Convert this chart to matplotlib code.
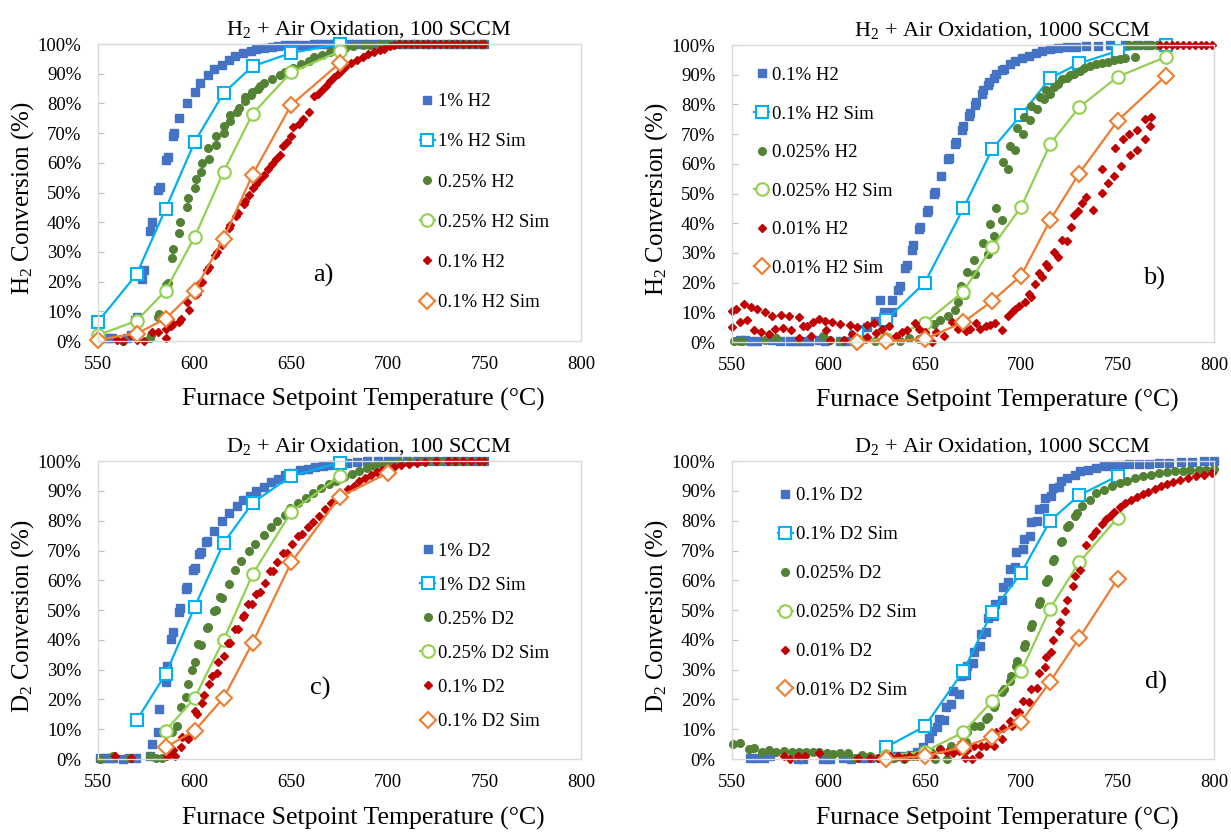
import numpy as np
import matplotlib.pyplot as plt

plt.rcParams['font.family'] = ['Liberation Serif', 'DejaVu Serif']
plt.rcParams['mathtext.fontset'] = 'custom'
plt.rcParams['mathtext.rm'] = 'Liberation Serif'
plt.rcParams['mathtext.it'] = 'Liberation Serif:italic'

# ---- panel a: H2 + air, 100 SCCM  (T degC, conversion %)
a_1_exp = [(552, 1), (555, 1), (557, 1), (565, 1), (567, 2), (569, 7), (570, 8), (573, 21), (574, 24),
           (577, 37), (578, 40), (581, 51), (582, 52), (585, 61), (586, 62), (589, 69), (589.5, 70),
           (592, 75), (596, 80), (600, 84), (603, 87), (607, 89.5), (610, 91.7), (614, 93), (618, 94.5),
           (621, 96), (625, 97), (629, 97.8), (632, 98.4), (636, 98.8), (640, 99.1), (643, 99.3),
           (647, 99.5), (651, 99.6), (654, 99.7), (658, 99.8), (662, 99.9), (665, 99.9), (669, 100),
           (672, 100), (676, 100), (680, 100), (683, 100), (687, 100), (690, 100), (694, 100), (697, 100),
           (701, 100), (705, 100), (708, 100), (712, 100), (715, 100), (719, 100), (722, 100), (726, 100),
           (730, 100), (733, 100), (737, 100), (740, 100), (744, 100), (748, 100), (750, 100)]
a_1_sim = [(550, 6.5), (570, 22.5), (585, 44.5), (600, 67), (615, 83.5), (630, 92.5), (650, 97), (675, 100)]
a_025_exp = [(563, 0), (577, 1), (577.5, 2), (581, 8), (581.5, 9), (585, 19), (586, 19.5), (588.5, 28),
             (589, 31), (592, 36.5), (592.5, 40), (596, 45), (596.5, 48), (600, 51.5), (600.5, 54.5),
             (603.5, 57), (604, 60), (607.5, 61.3), (607, 65), (611, 66), (611, 69), (615, 70), (615, 72.5),
             (618.5, 74), (618.5, 76), (622, 77), (623, 78.5), (626, 80.7), (626, 82), (629, 83), (629.5, 84),
             (633, 85), (634, 86), (636, 87), (640, 88.3), (644, 89.5), (647, 90.6), (651, 92), (655, 93.4),
             (659, 94.4), (662, 95.6), (666, 96.4), (670, 97.3), (674, 98), (678, 98.7), (682, 99.2),
             (687, 99.6), (691, 99.8), (696, 100), (700, 100), (704, 100), (708, 100), (712, 100), (716, 100),
             (720, 100), (724, 100), (728, 100), (732, 100), (736, 100), (740, 100), (744, 100), (748, 100),
             (750, 100)]
a_025_sim = [(550, 2), (570, 6.8), (585, 17), (600, 35), (615, 57), (630, 76.5), (650, 90.5), (675, 97.5)]
a_01_exp = [(560, 0.5), (563, 0), (567, 2), (570, 0.5), (574, 0), (578, 3), (581, 3), (585, 4), (585, 1),
            (588, 5), (589, 5.6), (592, 6.4), (593, 7.3), (596, 13), (597, 10.4), (600, 15.4), (601, 16),
            (603, 19.6), (604, 20), (606.5, 24), (607.5, 25), (610.5, 29), (611.5, 30), (614, 32.5), (615, 35),
            (618, 38), (618.5, 39), (621.4, 42), (622.4, 43), (625.4, 46), (626, 47), (628.4, 49), (630, 51.6),
            (632, 53), (634, 54.6), (636, 56), (638, 58), (640, 59.6), (642, 61.3), (644, 62.8), (645.6, 65.6),
            (647.6, 67), (649.8, 69), (651, 72), (654, 73), (656, 74.6), (659, 77), (662, 82.4), (664, 83.3),
            (666, 84.6), (668, 86), (670, 87.4), (672, 89), (674, 90), (676, 91), (678, 92.3), (681, 93.6),
            (684, 94.7), (687, 95.6), (690, 96.6), (693, 97.2), (696, 98), (698, 98.4), (701, 99.2),
            (703, 99.6), (706, 100), (709, 100), (712, 100), (715, 100), (718, 100), (721, 100), (724, 100),
            (727, 100), (730, 100), (733, 100), (736, 100), (739, 100), (742, 100), (745, 100), (748, 100),
            (750, 100)]
a_01_sim = [(550, 0.5), (570, 2.5), (585, 7.5), (600, 17), (615, 34.5), (630, 56), (650, 79.5), (675, 93.5)]

# ---- panel b: H2 + air, 1000 SCCM
b_01_exp = [(554, 0.8), (557, 0.6), (560, 0.3), (563, 0.2), (571, 0.6), (575, 0.5), (580, 0.3), (583, 0.3),
            (587, 0.2), (590, 0.3), (595, 0.6), (598, 0.5), (606, 0.3), (609, 0.5), (613, 2.5), (616, 4),
            (620, 5), (624, 7), (627, 14), (629, 10), (633, 10), (633, 14), (636, 17.6), (637, 19), (640, 25),
            (641, 26), (643.5, 31), (644, 32.6), (647, 38), (647.5, 38.8), (651, 43.8), (651.5, 44.5),
            (655, 50), (655.5, 50.6), (658.6, 56), (662, 61.5), (662.5, 62), (665.5, 66.6), (666, 67.4),
            (669.4, 71.3), (670, 72.7), (673, 76), (673.5, 77.2), (676, 79.8), (676.5, 80.9), (679.6, 83.4),
            (680, 84.8), (683, 86.5), (683.5, 87.6), (686, 89), (687, 90.2), (690, 91.6), (691, 92),
            (694, 93.5), (697, 94.6), (700.6, 95.5), (704, 96.3), (707.6, 97.2), (711, 98), (715, 98.5),
            (719, 98.9), (723.5, 99.2), (728.6, 99.4), (733.7, 99.7), (740, 99.8), (746, 99.9), (754, 100),
            (760, 100), (766, 100), (772, 100)]
b_01_sim = [(615, 3.5), (630, 7.5), (650, 20), (670, 45), (685, 65), (700, 76.5), (715, 88.8), (730, 93.8),
            (750, 98), (775, 100)]
b_0025_exp = [(551, 0.5), (554, 0.5), (555, 0.3), (567, 0.8), (573, 1.5), (585, 0.8), (597, 2), (601, 0.8),
              (606, 0.5), (615, 1.1), (619, 1.1), (624, 0.3), (632, 0.5), (637, 0.3), (642, 1.5), (647, 1.1),
              (650, 2.8), (655, 6.2), (658, 7.3), (662, 8.7), (665.9, 10.7), (667, 13.5), (668.8, 18.8),
              (671, 15.7), (672, 23.6), (675.5, 27.5), (676, 22.8), (680, 33.4), (682.7, 29.8), (683.7, 39.9),
              (686, 35.7), (686.7, 45), (690, 41), (690.8, 60.7), (693, 58.4), (694, 66), (697, 64.6),
              (698, 72), (701, 70), (701.6, 75.8), (704.5, 74.7), (705, 79.4), (708, 78.3), (709.6, 82.6),
              (711.8, 81.7), (713, 84.8), (715, 83.6), (717, 85.7), (719, 86.9), (721, 88.4), (723.5, 89),
              (725.5, 89.9), (727.6, 90.4), (730.6, 91.3), (732.7, 92.1), (735.7, 92.9), (738.8, 93.5),
              (742, 94), (745, 94.4), (748, 95), (751, 95.2), (754, 95.5), (759, 96.1), (756, 100), (759, 100),
              (762, 100), (765, 100), (768, 100), (771, 100)]
b_0025_sim = [(615, 0.5), (630, 1), (650, 6.4), (670, 17), (685, 32), (700, 45.5), (715, 66.6), (730, 79),
              (750, 89.3), (775, 96)]
b_001_exp = [(550, 10.4), (552, 11.2), (556, 12.7), (560, 11.8), (563, 11.2), (567, 10), (571, 8.7),
             (575.5, 9), (579.6, 8.7), (584.7, 8.4), (588.8, 5.3), (592, 6.7), (595, 7.8), (598, 7.1),
             (602, 6.7), (606, 6.2), (611, 5.6), (615, 5), (620, 5.6), (623.5, 6.4),
             (550, 5), (554, 6.7), (558, 7.3), (561.6, 3.9), (565, 3.4), (569, 2.8), (572.5, 4.5), (576.5, 4.8),
             (580.6, 3.9), (584.7, 1.3), (587, 5.3), (591, 2.2), (599, 3.9), (601, 0.8), (608, 0.6),
             (612, 2.8), (620, 1.7), (624.5, 3), (627.6, 4.5), (631.6, 5.3), (635, 2.2), (638, 3.4),
             (641, 4.2), (645, 6.4), (647, 4.5), (650, 3.4), (654, 0), (656, 3.4), (660, 2.2), (664, 6.7),
             (667, 4.5), (671.4, 3.7), (673.5, 4.5), (676.5, 6.4), (678.6, 4.5), (681.6, 5.3), (683.7, 5.6),
             (686.3, 6.4), (690, 3.9), (693, 8.7), (695, 10), (697, 11.2), (699, 12), (702, 13.5),
             (704, 16.3), (705, 15), (707, 19.7), (709, 23.3), (711, 22), (713, 26.4), (714, 25.3),
             (717, 30.3), (719, 28.7), (721.4, 34.5), (723.5, 34), (726, 38.8), (727.6, 42.7), (729.6, 44.2),
             (731.6, 46.9), (733.7, 48.9), (737, 44.4), (742, 58.4), (742, 50.2), (745, 53.4), (748, 55.8),
             (752, 59.2), (748.4, 65.2), (753, 68.2), (756, 70.2), (756.6, 63.1), (760, 64.6), (760, 71.3),
             (764, 68.2), (764, 75), (767.4, 75.8), (767, 72.7),
             (772, 100), (775, 100), (778, 100), (781, 100), (784, 100), (787, 100), (790, 100), (793, 100),
             (796, 100), (799, 100)]
b_001_sim = [(615, 0), (630, 0.3), (650, 1), (670, 6.7), (685, 13.8), (700, 22.4), (715, 41), (730, 56.7),
             (750, 74.5), (775, 89.6)]

# ---- panel c: D2 + air, 100 SCCM
c_1_exp = [(551, 0.5), (553, 0.5), (556, 0.5), (558, 0.5), (563, 0), (566, 0.2), (569.6, 0.2), (577, 1),
           (577.8, 5), (581, 9.2), (581.5, 16.8), (585, 26), (585.5, 31.4), (588, 40.3), (589, 42.5),
           (591.7, 49.3), (592.5, 50.6), (595.4, 57), (596, 57.6), (599, 63.3), (600, 64), (602.4, 68.8),
           (603.4, 69.4), (606, 73), (606.5, 73.3), (610, 76.5), (614, 79.8), (617.8, 82.7), (621.8, 85),
           (625, 86.9), (628.8, 88.4), (632, 90), (635.7, 91.4), (639.7, 92.9), (643, 94), (646.6, 95.2),
           (650.6, 96), (654.6, 96.9), (658.5, 97.4), (662.5, 98), (666.5, 98.3), (670.4, 98.8),
           (674.4, 99.1), (679, 99.4), (684, 99.7), (689, 99.9), (695, 100), (700, 100), (705, 100),
           (710, 100), (715, 100), (720, 100), (725, 100), (730, 100), (735, 100), (740, 100), (745, 100),
           (750, 100)]
c_1_sim = [(570, 13), (585, 28.5), (600, 51), (615, 72.5), (630, 86), (650, 95), (675, 99.5)]
c_025_exp = [(551, 0), (558, 1), (566, 0.5), (577, 1), (580, 0.5), (583, 0.5), (585.7, 3), (587, 4),
             (588.5, 9.2), (591, 11.2), (593, 17.6), (595.4, 20.7), (596.4, 25.2), (598.6, 29.9),
             (600.4, 32.7), (602, 38.6), (603.5, 38.3), (606.5, 44), (607, 44.2), (610, 49.8), (611, 50),
             (613, 54.3), (614, 54), (617.8, 58.6), (621, 63.3), (624, 66.4), (628.4, 69.7), (631.3, 72.2),
             (635.7, 75.3), (639.3, 77.8), (642.7, 79.8), (646.6, 82), (649.6, 84.2), (653.6, 86),
             (657.5, 87.6), (661.5, 89.4), (665.5, 91), (669.4, 92.3), (673.4, 93.5), (677.4, 94.6),
             (681.3, 95.6), (685.3, 96.8), (689.3, 97.6), (693, 98.4), (697.2, 99), (701, 99.4), (706, 99.7),
             (711, 99.9), (717, 100), (722, 100), (727, 100), (732, 100), (737, 100), (742, 100), (747, 100),
             (750, 100)]
c_025_sim = [(585, 9.5), (600, 20.5), (615, 40), (630, 62), (650, 83), (675, 95)]
c_01_exp = [(559, 1), (567, 0.5), (585.5, 1), (587, 1.5), (589, 3), (590, 1), (593, 4), (593.5, 7.3),
            (596.4, 6.7), (597.4, 8), (600.4, 16), (601.4, 15), (604, 18.7), (605, 21.5), (607.5, 25.2),
            (609, 28), (611.5, 29), (612.3, 32.7), (615, 34.7), (617.5, 38.9), (618.5, 38.9), (621, 43.7),
            (622.4, 43.7), (625, 47.8), (625.6, 48.3), (627.8, 52), (629.8, 52), (631.8, 55.4), (633.7, 56),
            (636.3, 59), (639, 63), (640.6, 63), (642.7, 66), (645.6, 69.3), (647.6, 69.3), (650.6, 72.2),
            (653.6, 75), (655.6, 75.6), (658.5, 77.8), (661.5, 79.7), (664.5, 81.7), (667.5, 84), (670.5, 85.9),
            (673.4, 87.3), (676.4, 88.8), (679.4, 90.5), (682.4, 91.8), (685.3, 93.2), (688.3, 94.3),
            (691.3, 95.4), (694.3, 96.3), (697.2, 97.1), (700, 97.6), (703.2, 98.2), (707, 98.8), (711, 99.1),
            (715, 99.4), (719, 99.7), (725, 99.9), (731, 100), (735, 100), (739, 100), (743, 100), (747, 100),
            (750, 100)]
c_01_sim = [(585, 4), (600, 9.5), (615, 20.5), (630, 39), (650, 66), (675, 88), (700, 96)]

# ---- panel d: D2 + air, 1000 SCCM
d_01_exp = [(559.6, 0.5), (562.6, 0.2), (566.7, 0.5), (569.8, 0.9), (584, 0), (586.7, 0), (597, 0), (601, 0),
            (607.5, 0.5), (611.5, 0), (617.6, 0.2), (621.7, 0.2), (632, 0.5), (635, 1), (639, 0.9),
            (643, 1.3), (646, 2.5), (649, 4.1), (652, 6.9), (654, 9.5), (656.4, 10.6), (657.4, 13.4),
            (660, 13), (661, 17.4), (663.5, 18.5), (664.5, 23), (667.5, 22), (668.6, 28), (671.6, 28.2),
            (672, 31.4), (675, 32.4), (675.7, 36), (678.8, 38), (679.4, 42), (681.8, 42.8), (683, 47.3),
            (686, 48), (686.5, 52), (690, 53.5), (690.6, 57.7), (693.4, 59.4), (694, 63.8), (696.7, 64.4),
            (697.5, 69.5), (701, 70.6), (701.6, 73.8), (704.6, 74.9), (705, 79.6), (708.3, 80), (709, 84),
            (711.8, 84.4), (712.4, 87.7), (715.5, 88.3), (716.5, 91), (719.5, 91.4), (720.5, 93.3),
            (724, 94.4), (727.7, 95.5), (730.7, 96.7), (734.8, 97.2), (738.8, 97.7), (742.9, 98.3),
            (747, 98.5), (751, 98.8), (756, 99), (761, 99.1), (766.4, 99.2), (771.5, 99.3), (776.6, 99.4),
            (782.7, 99.6), (788.8, 99.8), (795, 99.9), (800, 100)]
d_01_sim = [(630, 4), (650, 11), (670, 29.5), (685, 49.5), (700, 62.5), (715, 80), (730, 88.5), (750, 95)]
d_0025_exp = [(550.4, 5), (554, 5.3), (558.6, 3.4), (561.6, 3.6), (565.7, 2.5), (569.4, 3.1), (572.8, 2.2),
              (576.9, 2.8), (581, 2.2), (585, 2.2), (588.5, 2.5), (592, 2.5), (595.2, 2.2), (599.3, 2),
              (602.4, 1.7), (605.8, 2), (610, 2), (613.6, 0.5), (617.7, 1.3), (621.7, 1.1), (625.8, 0.5),
              (630, 1.1), (634, 0.5), (639, 0), (644, 0.9), (650, 1.1), (653, 2.2), (655.3, 0), (658, 3.4),
              (661.4, 0), (663.5, 4.5), (668.6, 5), (669.6, 7.8), (671.2, 5.6), (672, 9), (675.7, 11.2),
              (678.8, 11.2), (681.8, 13.4), (683, 14), (685.9, 17.4), (686.5, 18.5), (690, 22.4), (691, 23.5),
              (694, 26.3), (694.6, 28), (697.5, 31.4), (698, 33), (701.6, 37.5), (702.2, 38.6), (705, 44.2),
              (705.8, 45.4), (709, 52), (710, 53), (713, 59.4), (713.8, 60.5), (716.5, 66.4), (717, 67.2),
              (720.5, 72.8), (721, 73.3), (723.6, 77.8), (724.6, 78.7), (727.7, 81.7), (728.7, 82.5),
              (731.7, 84.8), (735.8, 86.8), (738.8, 89.4), (743, 90.4), (747, 91.6), (751, 92.6), (755, 93.5),
              (759, 94.3), (763.3, 95), (767.4, 95.5), (771.5, 96), (775.6, 96.3), (779.6, 96.6),
              (783.7, 96.6), (787.8, 97), (792, 97.1), (796, 97.2), (800, 97.3)]
d_0025_sim = [(630, 1), (650, 2.5), (670, 9), (685, 19.5), (700, 29.5), (715, 50.5), (730, 66), (750, 81)]
d_001_exp = [(577, 0.9), (580, 0), (584, 1.1), (588, 0.9), (595, 2), (615.6, 0.5), (621.7, 0.5),
             (625.8, 0.5), (632, 0.9), (636, 1.1), (639, 0.5), (642, 0.9), (646, 1.1), (650, 1.1), (654, 1.1),
             (658, 3.4), (661.4, 2.2), (664.5, 2), (668, 2.8), (671, 0.5), (672, 3), (674.6, 0), (675.7, 4.5),
             (678.3, 1.3), (679, 4.5), (681.8, 4.5), (682.8, 7.3), (686, 4.5), (686.9, 9), (690, 6.7),
             (690.6, 10.4), (694, 12.7), (695, 11.2), (697, 15.7), (699, 15.7), (701, 19.6), (704.3, 19),
             (705, 23.5), (708, 24), (709, 28.8), (712.4, 30.8), (713, 34.2), (715.5, 35.8), (716.5, 39.8),
             (719.5, 43.1), (720, 46.1), (722.6, 49.8), (723.6, 53.4), (726.7, 58.2), (727.7, 61.6),
             (730.7, 63.5), (733.8, 71.7), (736.8, 75), (738.8, 76.7), (742, 79), (744, 80.6), (746, 81.7),
             (748, 82.8), (751, 84.5), (754, 85.9), (757, 87), (760, 87.9), (763, 89), (766, 89.8),
             (769.4, 90.7), (772.5, 91.5), (775.6, 92.2), (778.6, 93), (782.6, 93.7), (786.7, 94.4),
             (790.8, 95), (795, 95.5), (799, 96)]
d_001_sim = [(630, 0), (650, 1), (670, 4), (685, 7.5), (700, 12.5), (715, 26), (730, 40.5), (750, 60.5)]

EXP_COLORS = ['#4472C4', '#548235', '#C00000']
SIM_COLORS = ['#00B0F0', '#92D050', '#ED7D31']
EXP_MARKERS = ['s', 'o', 'D']
EXP_SIZES = [5.5, 5.5, 4.5]
SIM_SIZES = [9, 9, 8]


def draw_panel(ax, series, labels, title, ylab, letter, letter_xy, leg_xy, spacing, xlab_y):
    for i in range(3):
        exp = np.array(series[2 * i]).T
        sim = np.array(series[2 * i + 1]).T
        ax.plot(exp[0], exp[1], ls='none', marker=EXP_MARKERS[i], ms=EXP_SIZES[i],
                color=EXP_COLORS[i], mec=EXP_COLORS[i], label=labels[2 * i], clip_on=False)
        ax.plot(sim[0], sim[1], ls='-', lw=1.6, marker=EXP_MARKERS[i], ms=SIM_SIZES[i],
                color=SIM_COLORS[i], mfc='white', mec=SIM_COLORS[i], mew=1.5,
                label=labels[2 * i + 1], clip_on=False)
    ax.set_xlim(550, 800)
    ax.set_ylim(0, 100)
    ax.set_xticks(np.arange(550, 801, 50))
    ax.set_yticks(np.arange(0, 101, 10))
    ax.set_yticklabels(['%d%%' % v for v in range(0, 101, 10)])
    ax.tick_params(axis='y', direction='in', length=4, color='#BFBFBF', pad=12, labelsize=13.5)
    ax.tick_params(axis='x', length=0, pad=11, labelsize=13.5)
    for s in ax.spines.values():
        s.set_color('#D9D9D9')
        s.set_linewidth(1)
    ax.set_title(title, fontsize=16, x=0.56, y=1.005)
    ax.set_xlabel('Furnace Setpoint Temperature (°C)', fontsize=18.5)
    ax.xaxis.set_label_coords(0.55, xlab_y)
    ax.set_ylabel(ylab, fontsize=18)
    ax.yaxis.set_label_coords(-0.128, 0.48)
    ax.text(letter_xy[0], letter_xy[1], letter, transform=ax.transAxes, fontsize=19,
            ha='center', va='center')
    ax.legend(loc='upper left', bbox_to_anchor=leg_xy, frameon=False, fontsize=13.5,
              handlelength=0.8, handletextpad=0.15, borderpad=0, borderaxespad=0,
              labelspacing=spacing, numpoints=1)


fig = plt.figure(figsize=(12.31, 8.32), dpi=100)
ax_a = fig.add_axes([0.0796, 0.5901, 0.3924, 0.357])
ax_b = fig.add_axes([0.5946, 0.5889, 0.3916, 0.357])
ax_c = fig.add_axes([0.0796, 0.0877, 0.3924, 0.358])
ax_d = fig.add_axes([0.5946, 0.0877, 0.3916, 0.358])

h2 = 'H$_2$ Conversion (%)'
d2 = 'D$_2$ Conversion (%)'
draw_panel(ax_a, [a_1_exp, a_1_sim, a_025_exp, a_025_sim, a_01_exp, a_01_sim],
           ['1% H2', '1% H2 Sim', '0.25% H2', '0.25% H2 Sim', '0.1% H2', '0.1% H2 Sim'],
           'H$_2$ + Air Oxidation, 100 SCCM', h2, 'a)', (0.466, 0.222), (0.666, 0.835), 1.23, -0.158)
draw_panel(ax_b, [b_01_exp, b_01_sim, b_0025_exp, b_0025_sim, b_001_exp, b_001_sim],
           ['0.1% H2', '0.1% H2 Sim', '0.025% H2', '0.025% H2 Sim', '0.01% H2', '0.01% H2 Sim'],
           'H$_2$ + Air Oxidation, 1000 SCCM', h2, 'b)', (0.875, 0.215), (0.046, 0.9265), 1.145, -0.158)
draw_panel(ax_c, [c_1_exp, c_1_sim, c_025_exp, c_025_sim, c_01_exp, c_01_sim],
           ['1% D2', '1% D2 Sim', '0.25% D2', '0.25% D2 Sim', '0.1% D2', '0.1% D2 Sim'],
           'D$_2$ + Air Oxidation, 100 SCCM', d2, 'c)', (0.46, 0.238), (0.667, 0.727), 0.905, -0.16)
draw_panel(ax_d, [d_01_exp, d_01_sim, d_0025_exp, d_0025_sim, d_001_exp, d_001_sim],
           ['0.1% D2', '0.1% D2 Sim', '0.025% D2', '0.025% D2 Sim', '0.01% D2', '0.01% D2 Sim'],
           'D$_2$ + Air Oxidation, 1000 SCCM', d2, 'd)', (0.88, 0.256), (0.095, 0.913), 1.165, -0.16)

fig.savefig('out.png', dpi=100)
